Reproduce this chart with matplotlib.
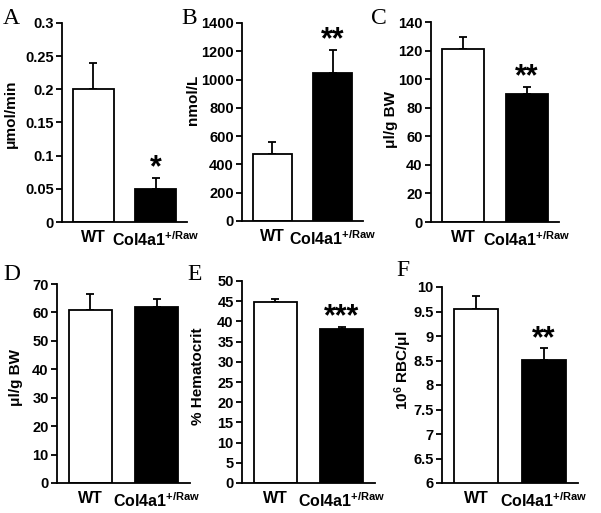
import numpy as np
import matplotlib
matplotlib.use("Agg")
import matplotlib.pyplot as plt

plt.rcParams['font.family'] = ['Liberation Sans', 'DejaVu Sans']
plt.rcParams['font.weight'] = 'bold'
plt.rcParams['mathtext.fontset'] = 'custom'
plt.rcParams['mathtext.rm'] = 'Liberation Sans:bold'
plt.rcParams['mathtext.bf'] = 'Liberation Sans:bold'
plt.rcParams['mathtext.default'] = 'bf'

groups = ["WT", "Col4a1$^{+/Raw}$"]

# panel data: means, upper SE
vals_a = [0.20, 0.05]
err_a = [0.04, 0.017]
vals_b = [475, 1045]
err_b = [82, 165]
vals_c = [120.9, 89.7]
err_c = [8.6, 4.9]
vals_d = [61.0, 61.8]
err_d = [5.4, 2.9]
vals_e = [44.9, 38.1]
err_e = [0.6, 0.6]
vals_f = [9.55, 8.51]
err_f = [0.26, 0.24]

stars = {"A": "*", "B": "**", "C": "**", "D": "", "E": "***", "F": "**"}

W, H = 601, 513
fig = plt.figure(figsize=(W / 100, H / 100), dpi=100)


def px_axes(l, r, t, b):
    return fig.add_axes([l / W, 1 - b / H, (r - l) / W, (b - t) / H])


panels = [
    # letter, values, errors, ylim, ticks, ticklabels, ylabel, axes px (l, r, t, b), letter px, ylabel px
    ("A", vals_a, err_a, (0, 0.3), np.arange(0, 0.31, 0.05),
     ["0", "0.05", "0.1", "0.15", "0.2", "0.25", "0.3"], "μmol/min",
     (62, 187, 23, 222), (3, 24), (11, 114)),
    ("B", vals_b, err_b, (0, 1400), np.arange(0, 1401, 200),
     None, "nmol/L", (242, 363, 23, 221), (181, 24), (193, 100)),
    ("C", vals_c, err_c, (0, 140), np.arange(0, 141, 20),
     None, "μl/g BW", (431, 559, 22, 222), (371, 24), (391, 120)),
    ("D", vals_d, err_d, (0, 70), np.arange(0, 71, 10),
     None, "μl/g BW", (57, 190, 284, 483), (3, 280), (16, 377)),
    ("E", vals_e, err_e, (0, 50), np.arange(0, 51, 5),
     None, "% Hematocrit", (242, 375, 281, 483), (187, 280), (198, 376)),
    ("F", vals_f, err_f, (6, 10), np.arange(6, 10.01, 0.5),
     ["6", "6.5", "7", "7.5", "8", "8.5", "9", "9.5", "10"], "10$^6$ RBC/μl",
     (442, 578, 287, 483), (396, 276), (403, 370)),
]

x = np.arange(2)
for letter, vals, errs, ylim, ticks, tlabels, ylabel, box, lpos, ypos in panels:
    ax = px_axes(*box)
    ax.bar(x, vals, width=0.65, color=["white", "black"], edgecolor="black",
           linewidth=1.3, zorder=2)
    ax.errorbar(x, vals, yerr=[[0, 0], errs], fmt="none", ecolor="black",
                elinewidth=1.3, capsize=3, capthick=1.3, zorder=1)
    ax.set_xlim(-0.5, 1.5)
    ax.set_ylim(*ylim)
    ax.set_yticks(ticks)
    if tlabels is not None:
        ax.set_yticklabels(tlabels)
    ax.set_xticks(x)
    ax.set_xticklabels(groups, fontsize=11.5, fontweight="bold")
    ax.tick_params(axis="x", length=0, pad=6)
    ax.tick_params(axis="y", length=4, width=1.3, labelsize=10.5, pad=2)
    for lab in ax.get_yticklabels():
        lab.set_fontweight("bold")
    for s in ["top", "right"]:
        ax.spines[s].set_visible(False)
    for s in ["left", "bottom"]:
        ax.spines[s].set_linewidth(1.3)
    if stars[letter]:
        ax.annotate(stars[letter], (1, vals[1] + errs[1]), xytext=(0, 1),
                    textcoords="offset points", ha="center", va="baseline",
                    fontsize=22, fontweight="bold")
    fig.text(lpos[0] / W, 1 - lpos[1] / H, letter, family="Liberation Serif",
             fontweight="normal", fontsize=17, ha="left", va="baseline")
    fig.text(ypos[0] / W, 1 - ypos[1] / H, ylabel, rotation=90, fontsize=11,
             fontweight="bold", ha="center", va="center")

fig.savefig("out.png", dpi=100)
